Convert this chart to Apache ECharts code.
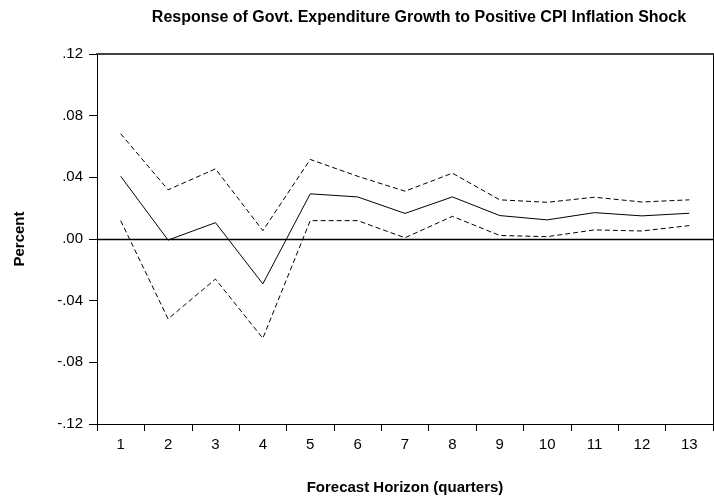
<!DOCTYPE html>
<html>
<head>
<meta charset="utf-8">
<script src="https://cdn.jsdelivr.net/npm/echarts@6/dist/echarts.min.js"></script>
<style>
  html, body { margin: 0; padding: 0; background: #fff; }
  #chart { width: 714px; height: 503px; }
</style>
</head>
<body>
<div id="chart"></div>
<script>
// Forecast horizon (quarters)
const horizons = ['1','2','3','4','5','6','7','8','9','10','11','12','13'];

// Impulse response and its +/- 2 S.E. bands
const response = [0.0407, -0.0007, 0.0106, -0.0291, 0.0293, 0.0273, 0.0166, 0.0273, 0.0152, 0.0124, 0.0171, 0.0150, 0.0167];
const upperBand = [0.0683, 0.0319, 0.0455, 0.0054, 0.0516, 0.0407, 0.0310, 0.0427, 0.0254, 0.0238, 0.0271, 0.0240, 0.0254];
const lowerBand = [0.0119, -0.0518, -0.0260, -0.0644, 0.0119, 0.0119, 0.0008, 0.0147, 0.0023, 0.0015, 0.0059, 0.0052, 0.0087];

// Y-axis tick values
const yTicks = [-0.12, -0.08, -0.04, 0.00, 0.04, 0.08, 0.12];

const FONT = '"Liberation Sans", Arial, sans-serif';

function fmtTick(v) {
  const s = Math.abs(v).toFixed(2).replace(/^0/, '');
  return (v < -1e-9 ? '-' : '') + s;
}

const chart = echarts.init(document.getElementById('chart'), null, { renderer: 'canvas' });

chart.setOption({
  backgroundColor: '#fff',
  animation: false,
  title: {
    text: 'Response of Govt. Expenditure Growth to Positive CPI Inflation Shock',
    left: 414,
    top: 5,
    textAlign: 'center',
    textStyle: { fontFamily: FONT, fontSize: 16, fontWeight: 'bold', color: '#000' }
  },
  grid: { left: 97, right: 1, top: 54, bottom: 79, containLabel: false },
  xAxis: [{
    type: 'category',
    data: horizons,
    boundaryGap: true,
    position: 'bottom',
    name: 'Forecast Horizon (quarters)',
    nameLocation: 'middle',
    nameGap: 56,
    nameTextStyle: { fontFamily: FONT, fontSize: 15, fontWeight: 'bold', color: '#000' },
    axisLine: { onZero: false, lineStyle: { color: '#000', width: 1 } },
    axisTick: { show: true, length: 7, lineStyle: { color: '#000' } },
    axisLabel: { fontFamily: FONT, fontSize: 15, color: '#000', margin: 13 },
    splitLine: { show: false }
  }, {
    type: 'category',
    data: horizons,
    position: 'top',
    axisLine: { onZero: false, lineStyle: { color: '#444', width: 2 } },
    axisTick: { show: false },
    axisLabel: { show: false },
    splitLine: { show: false }
  }],
  yAxis: [{
    type: 'value',
    min: yTicks[0],
    max: yTicks[yTicks.length - 1],
    interval: 0.04,
    position: 'left',
    name: 'Percent',
    nameLocation: 'middle',
    nameGap: 70,
    nameTextStyle: { fontFamily: FONT, fontSize: 15, fontWeight: 'bold', color: '#000' },
    axisLine: { show: true, lineStyle: { color: '#000', width: 1 } },
    axisTick: { show: true, length: 8, lineStyle: { color: '#000' } },
    axisLabel: { fontFamily: FONT, fontSize: 15, color: '#000', margin: 14, formatter: fmtTick },
    splitLine: { show: false }
  }, {
    type: 'value',
    min: yTicks[0],
    max: yTicks[yTicks.length - 1],
    interval: 0.04,
    position: 'right',
    axisLine: { show: true, lineStyle: { color: '#000', width: 1 } },
    axisTick: { show: false },
    axisLabel: { show: false },
    splitLine: { show: false }
  }],
  series: [{
    name: 'Response',
    type: 'line',
    data: response,
    symbol: 'none',
    lineStyle: { color: '#000', width: 1 },
    z: 3,
    markLine: {
      silent: true,
      symbol: 'none',
      label: { show: false },
      lineStyle: { color: '#000', width: 1.3, type: 'solid' },
      data: [{ yAxis: 0 }]
    }
  }, {
    name: 'Upper',
    type: 'line',
    data: upperBand,
    symbol: 'none',
    lineStyle: { color: '#000', width: 1, type: [5, 3] }
  }, {
    name: 'Lower',
    type: 'line',
    data: lowerBand,
    symbol: 'none',
    lineStyle: { color: '#000', width: 1, type: [5, 3] }
  }]
});
</script>
</body>
</html>
